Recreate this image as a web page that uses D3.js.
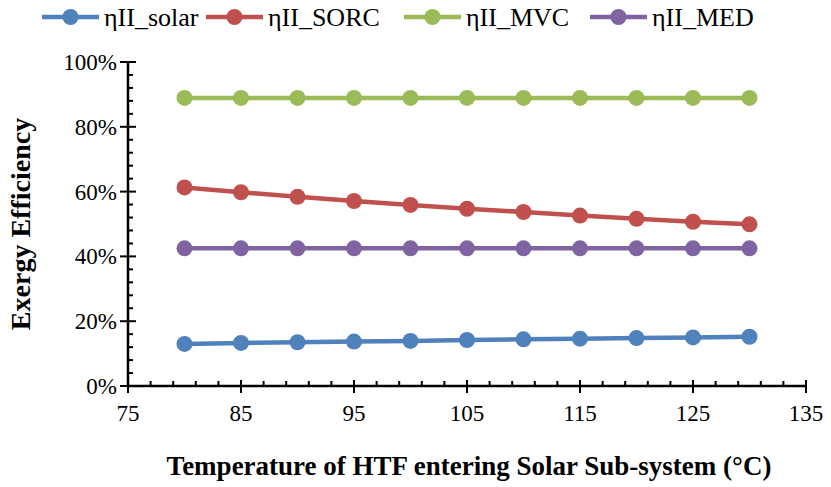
<!DOCTYPE html>
<html>
<head>
<meta charset="utf-8">
<script src="https://cdn.jsdelivr.net/npm/d3@7"></script>
<style>
  html, body { margin: 0; padding: 0; background: #fff; }
</style>
</head>
<body>
<svg id="chart" width="831" height="487"></svg>
<script>
// Inlet temperature of the heat transfer fluid (°C)
const temperatures = [80, 85, 90, 95, 100, 105, 110, 115, 120, 125, 130];

// Second-law (exergy) efficiency of each sub-system, in %
const etaSolar = [13.0, 13.3, 13.5, 13.7, 13.9, 14.2, 14.4, 14.6, 14.8, 15.0, 15.2];
const etaSORC  = [61.3, 59.8, 58.4, 57.1, 55.9, 54.7, 53.7, 52.6, 51.6, 50.7, 49.9];
const etaMVC   = [88.9, 88.9, 88.9, 88.9, 88.9, 88.9, 88.9, 88.9, 88.9, 88.9, 88.9];
const etaMED   = [42.5, 42.5, 42.5, 42.5, 42.5, 42.5, 42.5, 42.5, 42.5, 42.5, 42.5];

const seriesNames  = ["ηII_solar", "ηII_SORC", "ηII_MVC", "ηII_MED"];
const seriesColors = ["#4F81BD", "#C0504D", "#9BBB59", "#8064A2"];

const xTicks = [75, 85, 95, 105, 115, 125, 135];
const yTicks = [0, 20, 40, 60, 80, 100];

const xTitle = "Temperature of HTF entering Solar Sub-system (°C)";
const yTitle = "Exergy Efficiency";

const series = [etaSolar, etaSORC, etaMVC, etaMED].map((vals, i) => ({
  name: seriesNames[i],
  color: seriesColors[i],
  points: vals.map((v, j) => ({ x: temperatures[j], y: v }))
}));

const W = 831, H = 487;
const margin = { top: 62, right: 25, bottom: 101, left: 128 };
const serif = '"Liberation Serif"';
const svg = d3.select("#chart");

const x = d3.scaleLinear().domain([75, 135]).range([margin.left, W - margin.right]);
const y = d3.scaleLinear().domain([0, 100]).range([H - margin.bottom, margin.top]);

const tickFont = 23;

// Minor ticks point into the plot
const xMinor = d3.range(75, 135.01, 2).filter(v => (v - 75) % 10 !== 0);
const yMinor = d3.range(0, 100.01, 4).filter(v => v % 20 !== 0);

const gx = svg.append("g");
gx.selectAll("line.minor").data(xMinor).join("line")
  .attr("x1", d => x(d)).attr("x2", d => x(d))
  .attr("y1", y(0)).attr("y2", y(0) - 5)
  .attr("stroke", "#000").attr("stroke-width", 2);
gx.selectAll("line.major").data(xTicks).join("line")
  .attr("x1", d => x(d)).attr("x2", d => x(d))
  .attr("y1", y(0) - 6).attr("y2", y(0) + 7)
  .attr("stroke", "#000").attr("stroke-width", 2);
gx.append("line")
  .attr("x1", x(75)).attr("x2", x(135))
  .attr("y1", y(0)).attr("y2", y(0))
  .attr("stroke", "#000").attr("stroke-width", 2.5);
gx.selectAll("text").data(xTicks).join("text")
  .attr("x", d => x(d)).attr("y", y(0) + 35)
  .attr("text-anchor", "middle")
  .style("font-family", serif)
  .attr("font-size", tickFont)
  .text(d => d);

const gy = svg.append("g");
gy.selectAll("line.minor").data(yMinor).join("line")
  .attr("x1", x(75)).attr("x2", x(75) + 5)
  .attr("y1", d => y(d)).attr("y2", d => y(d))
  .attr("stroke", "#000").attr("stroke-width", 2);
gy.selectAll("line.major").data(yTicks).join("line")
  .attr("x1", x(75) - 8).attr("x2", x(75) + 8)
  .attr("y1", d => y(d)).attr("y2", d => y(d))
  .attr("stroke", "#000").attr("stroke-width", 2);
gy.append("line")
  .attr("x1", x(75)).attr("x2", x(75))
  .attr("y1", y(0)).attr("y2", y(100))
  .attr("stroke", "#000").attr("stroke-width", 2.5);
gy.selectAll("text").data(yTicks).join("text")
  .attr("x", x(75) - 11).attr("y", d => y(d))
  .attr("dy", "0.35em")
  .attr("text-anchor", "end")
  .style("font-family", serif)
  .attr("font-size", tickFont)
  .text(d => d + "%");

// Series lines and markers
const line = d3.line().x(d => x(d.x)).y(d => y(d.y));
const gs = svg.append("g");
series.forEach(s => {
  gs.append("path")
    .datum(s.points)
    .attr("d", line)
    .attr("fill", "none")
    .attr("stroke", s.color)
    .attr("stroke-width", 4.5);
  gs.selectAll(null).data(s.points).join("circle")
    .attr("cx", d => x(d.x)).attr("cy", d => y(d.y))
    .attr("r", 8)
    .attr("fill", s.color);
});

// Axis titles
svg.append("text")
  .attr("x", (x(75) + x(135)) / 2 + 2).attr("y", 475)
  .attr("text-anchor", "middle")
  .style("font-family", serif)
  .attr("font-size", 27).attr("font-weight", "bold")
  .text(xTitle);

svg.append("text")
  .attr("transform", `translate(30, ${(y(0) + y(100)) / 2}) rotate(-90)`)
  .attr("text-anchor", "middle")
  .style("font-family", serif)
  .attr("font-size", 28).attr("font-weight", "bold")
  .text(yTitle);

// Legend
const legendX = [42, 206, 404, 590];
const lg = svg.append("g");
series.forEach((s, i) => {
  const g = lg.append("g").attr("transform", `translate(${legendX[i]}, 17)`);
  g.append("line").attr("x1", 0).attr("x2", 57).attr("y1", 0).attr("y2", 0)
    .attr("stroke", s.color).attr("stroke-width", 4.5);
  g.append("circle").attr("cx", 28.5).attr("cy", 0).attr("r", 8).attr("fill", s.color);
  g.append("text").attr("x", 62).attr("y", 0).attr("dy", "0.35em")
    .style("font-family", serif)
    .attr("font-size", 26).text(s.name);
});
</script>
</body>
</html>
